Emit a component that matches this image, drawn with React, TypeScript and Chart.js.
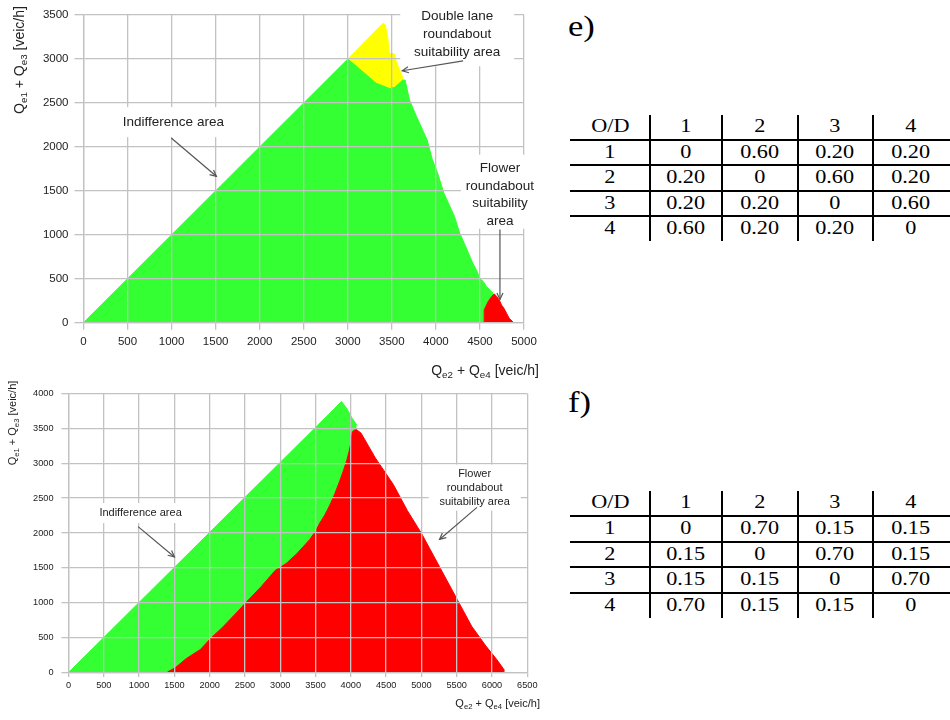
import React, { useEffect, useRef } from 'react';
import { Chart, registerables } from 'chart.js';

Chart.register(...registerables);

const SANS = '"Liberation Sans", Arial, sans-serif';
const SERIF = '"Liberation Serif", "Times New Roman", serif';

// ---------------- chart e) data ----------------
const E_X_TICKS = [0, 500, 1000, 1500, 2000, 2500, 3000, 3500, 4000, 4500, 5000];
const E_Y_TICKS = [0, 500, 1000, 1500, 2000, 2500, 3000, 3500];

const E_GREEN_X = [0, 3000, 3170, 3320, 3470, 3530, 3625, 3650, 3700, 3780, 3900, 3960, 4020, 4090, 4210, 4270, 4330, 4370, 4420, 4460, 4500, 4540, 4575, 4615, 4650];
const E_GREEN_Y = [0, 3000, 2855, 2725, 2665, 2675, 2760, 2760, 2535, 2345, 2080, 1855, 1700, 1475, 1210, 1020, 885, 790, 675, 600, 505, 465, 410, 370, 335];

const E_YELLOW_X = [3000, 3400, 3425, 3450, 3472, 3530, 3550, 3590, 3628];
const E_YELLOW_Y = [3000, 3405, 3386, 3270, 3064, 3056, 2969, 2874, 2780];

const E_RED_X = [4548, 4548, 4593, 4632, 4662, 4690, 4720, 4745, 4772, 4802, 4832, 4868, 4868];
const E_RED_Y = [0, 145, 240, 296, 328, 298, 258, 200, 164, 107, 50, 15, 0];

// ---------------- chart f) data ----------------
const F_X_TICKS = [0, 500, 1000, 1500, 2000, 2500, 3000, 3500, 4000, 4500, 5000, 5500, 6000, 6500];
const F_Y_TICKS = [0, 500, 1000, 1500, 2000, 2500, 3000, 3500, 4000];

const F_GREEN_X = [0, 3868, 3942, 4018, 4083];
const F_GREEN_Y = [0, 3885, 3787, 3645, 3550];

const F_RED_X = [1405, 1405, 1516, 1668, 1870, 2022, 2173, 2376, 2527, 2729, 2932, 3083, 3235, 3418, 3500, 3560, 3631, 3702, 3773, 3844, 3901, 3939, 3975, 4000, 4020, 4071, 4145, 4347, 4600, 4802, 5004, 5257, 5510, 5712, 5914, 6065, 6166, 6166];
const F_RED_Y = [0, 9, 71, 199, 331, 497, 639, 852, 1018, 1231, 1467, 1562, 1704, 1907, 2025, 2142, 2258, 2399, 2563, 2750, 2914, 3031, 3170, 3290, 3450, 3490, 3432, 3077, 2698, 2320, 1988, 1515, 1041, 663, 379, 189, 47, 0];

// ---------------- texts ----------------
const NOTE_INDIFF = ['Indifference area'];
const NOTE_DOUBLE = ['Double lane', 'roundabout', 'suitability area'];
const NOTE_FLOWER_E = ['Flower', 'roundabout', 'suitability', 'area'];
const NOTE_FLOWER_F = ['Flower', 'roundabout', 'suitability area'];
const X_TITLE = [{ t: 'Q' }, { t: 'e2', sub: true }, { t: ' + Q' }, { t: 'e4', sub: true }, { t: ' [veic/h]' }];
const Y_TITLE = [{ t: 'Q' }, { t: 'e1', sub: true }, { t: ' + Q' }, { t: 'e3', sub: true }, { t: ' [veic/h]' }];

// ---------------- tables ----------------
const OD_HEADER = ['O/D', '1', '2', '3', '4'];
const OD_ORIGINS = ['1', '2', '3', '4'];
const E_SHARES = [
  ['0', '0.60', '0.20', '0.20'],
  ['0.20', '0', '0.60', '0.20'],
  ['0.20', '0.20', '0', '0.60'],
  ['0.60', '0.20', '0.20', '0'],
];
const F_SHARES = [
  ['0', '0.70', '0.15', '0.15'],
  ['0.15', '0', '0.70', '0.15'],
  ['0.15', '0.15', '0', '0.70'],
  ['0.70', '0.15', '0.15', '0'],
];

const GREEN = '#33ff33';
const YELLOW = '#ffff00';
const RED = '#ff0000';
const GRID = '#c2c2c2';
const TEXT = '#222222';

function drawRich(ctx: any, parts: any[], x: number, y: number, align: string, size: number) {
  const main = `${size}px ${SANS}`;
  const sub = `${size * 0.7}px ${SANS}`;
  const widths = parts.map((p) => {
    ctx.font = p.sub ? sub : main;
    return ctx.measureText(p.t).width;
  });
  const total = widths.reduce((a, b) => a + b, 0);
  let sx = align === 'right' ? x - total : align === 'center' ? x - total / 2 : x;
  ctx.textAlign = 'left';
  ctx.textBaseline = 'alphabetic';
  parts.forEach((p, i) => {
    ctx.font = p.sub ? sub : main;
    ctx.fillText(p.t, sx, y + (p.sub ? size * 0.22 : 0));
    sx += widths[i];
  });
}

function drawArrow(ctx: any, x0: number, y0: number, x1: number, y1: number) {
  ctx.strokeStyle = '#555555';
  ctx.lineWidth = 1.2;
  ctx.beginPath();
  ctx.moveTo(x0, y0);
  ctx.lineTo(x1, y1);
  ctx.stroke();
  const ang = Math.atan2(y1 - y0, x1 - x0);
  const L = 7;
  const a = 0.45;
  ctx.beginPath();
  ctx.moveTo(x1 - L * Math.cos(ang - a), y1 - L * Math.sin(ang - a));
  ctx.lineTo(x1, y1);
  ctx.lineTo(x1 - L * Math.cos(ang + a), y1 - L * Math.sin(ang + a));
  ctx.stroke();
}

const overlayPlugin = {
  id: 'overlay',
  afterDraw(chart: any, _args: any, opts: any) {
    const ctx = chart.ctx;
    const xs = chart.scales.x;
    const ys = chart.scales.y;
    ctx.save();
    for (const n of opts.notes) {
      const cx = xs.getPixelForValue(n.x);
      const cy = ys.getPixelForValue(n.y);
      ctx.fillStyle = '#ffffff';
      ctx.fillRect(cx - n.boxW / 2, cy - n.boxH / 2 + (n.boxDy || 0), n.boxW, n.boxH);
      ctx.fillStyle = TEXT;
      ctx.font = `${n.size}px ${SANS}`;
      ctx.textAlign = 'center';
      ctx.textBaseline = 'middle';
      const k = n.lines.length;
      n.lines.forEach((t: string, i: number) => ctx.fillText(t, cx, cy + (i - (k - 1) / 2) * n.lh));
      drawArrow(
        ctx,
        xs.getPixelForValue(n.arrow[0]),
        ys.getPixelForValue(n.arrow[1]),
        xs.getPixelForValue(n.arrow[2]),
        ys.getPixelForValue(n.arrow[3])
      );
    }
    ctx.fillStyle = TEXT;
    const xt = opts.xTitle;
    drawRich(ctx, X_TITLE, xt.x, xt.y, 'right', xt.size);
    const yt = opts.yTitle;
    ctx.save();
    ctx.translate(yt.x, yt.y);
    ctx.rotate(-Math.PI / 2);
    drawRich(ctx, Y_TITLE, 0, yt.size * 0.36, 'center', yt.size);
    ctx.restore();
    ctx.restore();
  },
};

type Spec = any;

const E_SPEC: Spec = {
  width: 545,
  height: 380,
  plot: { left: 83.5, right: 524, top: 15, bottom: 322.7 },
  xMax: 5000,
  yMax: 3500,
  xTicks: E_X_TICKS,
  yTicks: E_Y_TICKS,
  tickFont: 11.5,
  xTick: { len: 7, pad: 5 },
  yTick: { len: 9, pad: 6 },
  areas: [
    { xs: E_RED_X, ys: E_RED_Y, color: RED },
    { xs: E_GREEN_X, ys: E_GREEN_Y, color: GREEN },
    { xs: E_YELLOW_X, ys: E_YELLOW_Y, color: YELLOW },
  ],
  notes: [
    { lines: NOTE_INDIFF, x: 1020, y: 2282, size: 13.5, lh: 17.8, boxW: 126, boxH: 30, arrow: [996, 2100, 1508, 1665] },
    { lines: NOTE_DOUBLE, x: 4242, y: 3281, size: 13.5, lh: 17.8, boxW: 114, boxH: 64, arrow: [4309, 2978, 3618, 2866] },
    { lines: NOTE_FLOWER_E, x: 4727, y: 1456, size: 13.5, lh: 17.6, boxW: 78, boxH: 74, boxDy: -3, arrow: [4727, 1059, 4727, 265] },
  ],
  xTitle: { x: 539, y: 375, size: 14 },
  yTitle: { x: 19, y: 60, size: 14 },
};

const F_SPEC: Spec = {
  width: 560,
  height: 340,
  plot: { left: 68.5, right: 527.3, top: 7.7, bottom: 292.5 },
  xMax: 6500,
  yMax: 4000,
  xTicks: F_X_TICKS,
  yTicks: F_Y_TICKS,
  tickFont: 9.2,
  xTick: { len: 4.5, pad: 3.3 },
  yTick: { len: 7, pad: 8 },
  areas: [
    { xs: F_RED_X, ys: F_RED_Y, color: RED },
    { xs: F_GREEN_X, ys: F_GREEN_Y, color: GREEN },
  ],
  notes: [
    { lines: NOTE_INDIFF, x: 1021, y: 2286, size: 11, lh: 14, boxW: 98, boxH: 20, arrow: [986, 2092, 1501, 1657] },
    { lines: NOTE_FLOWER_F, x: 5754, y: 2651, size: 11, lh: 14.1, boxW: 92, boxH: 46, arrow: [5787, 2367, 5257, 1908] },
  ],
  xTitle: { x: 540, y: 327, size: 11 },
  yTitle: { x: 12.5, y: 43, size: 11 },
};

function ChartPanel({ spec, left, top }: { spec: Spec; left: number; top: number }) {
  const ref = useRef<HTMLCanvasElement | null>(null);
  useEffect(() => {
    if (!ref.current) return;
    const s = spec;
    const tickCfg = (len: number, pad: number) => ({
      autoSkip: false,
      maxRotation: 0,
      minRotation: 0,
      padding: pad,
      color: TEXT,
      font: { family: SANS, size: s.tickFont },
      callback: (v: any) => String(v),
    });
    const chart = new Chart(ref.current, {
      type: 'line',
      data: {
        datasets: s.areas.map((a: any) => ({
          data: a.xs.map((x: number, i: number) => ({ x, y: a.ys[i] })),
          borderColor: a.color,
          backgroundColor: a.color,
          borderWidth: 1,
          fill: 'origin',
          pointRadius: 0,
          pointHoverRadius: 0,
          tension: 0,
        })),
      },
      options: {
        responsive: false,
        animation: false,
        events: [],
        layout: { padding: { left: 0, top: s.plot.top, right: s.width - s.plot.right, bottom: 0 } },
        plugins: {
          legend: { display: false },
          tooltip: { enabled: false },
          overlay: { notes: s.notes, xTitle: s.xTitle, yTitle: s.yTitle },
        } as any,
        scales: {
          x: {
            type: 'linear',
            min: 0,
            max: s.xMax,
            afterFit: (sc: any) => {
              sc.height = s.height - s.plot.bottom;
            },
            afterBuildTicks: (sc: any) => {
              sc.ticks = s.xTicks.map((v: number) => ({ value: v }));
            },
            ticks: tickCfg(s.xTick.len, s.xTick.pad),
            grid: { color: GRID, lineWidth: 1.3, tickLength: s.xTick.len, z: 1 },
            border: { color: GRID, width: 1.3, z: 1 },
          },
          y: {
            type: 'linear',
            min: 0,
            max: s.yMax,
            afterFit: (sc: any) => {
              sc.width = s.plot.left;
            },
            afterBuildTicks: (sc: any) => {
              sc.ticks = s.yTicks.map((v: number) => ({ value: v }));
            },
            ticks: tickCfg(s.yTick.len, s.yTick.pad),
            grid: { color: GRID, lineWidth: 1.3, tickLength: s.yTick.len, z: 1 },
            border: { color: GRID, width: 1.3, z: 1 },
          },
        },
      } as any,
      plugins: [overlayPlugin as any],
    });
    return () => chart.destroy();
  }, [spec]);
  return (
    <canvas
      ref={ref}
      width={spec.width}
      height={spec.height}
      style={{ position: 'absolute', left, top, width: spec.width, height: spec.height }}
    />
  );
}

const COL_CENTERS = [610, 686, 760, 835, 911];
const COL_LINES = [650, 722, 798, 873];
const ROW_H = 25.6;

function ODTable({ headCenter, shares }: { headCenter: number; shares: string[][] }) {
  const rows = [OD_HEADER, ...shares.map((r, i) => [OD_ORIGINS[i], ...r])];
  const items: any[] = [];
  rows.forEach((row, r) =>
    row.forEach((t, c) =>
      items.push(
        <div
          key={`c${r}-${c}`}
          style={{
            position: 'absolute',
            left: COL_CENTERS[c] - 40,
            width: 80,
            top: headCenter + r * ROW_H - 12,
            height: 24,
            lineHeight: '24px',
            textAlign: 'center',
            font: `19px ${SERIF}`,
            color: '#000',
            whiteSpace: 'nowrap',
          }}
        >
          <span style={{ display: 'inline-block', transform: 'scaleX(1.17)' }}>{t}</span>
        </div>
      )
    )
  );
  for (let i = 0; i < 4; i++) {
    items.push(
      <div
        key={`h${i}`}
        style={{ position: 'absolute', left: 570, width: 380, top: headCenter + 12.6 + i * ROW_H - 1, height: 2, background: '#000' }}
      />
    );
  }
  COL_LINES.forEach((x, i) =>
    items.push(
      <div
        key={`v${i}`}
        style={{ position: 'absolute', left: x - 1, width: 2, top: headCenter - 12, height: 4 * ROW_H + 24, background: '#000' }}
      />
    )
  );
  return <>{items}</>;
}

function PanelLabel({ text, baseline }: { text: string; baseline: number }) {
  return (
    <div
      style={{
        position: 'absolute',
        left: 568,
        top: baseline - 25.1,
        font: `30px ${SERIF}`,
        lineHeight: '30px',
        color: '#000',
        transform: 'scaleX(1.15)',
        transformOrigin: 'left top',
        whiteSpace: 'nowrap',
      }}
    >
      {text}
    </div>
  );
}

export default function App() {
  return (
    <div style={{ position: 'absolute', left: 0, top: 0, width: 950, height: 720, background: '#fff', overflow: 'hidden' }}>
      <ChartPanel spec={E_SPEC} left={0} top={0} />
      <ChartPanel spec={F_SPEC} left={0} top={380} />
      <PanelLabel text="e)" baseline={36.5} />
      <ODTable headCenter={127} shares={E_SHARES} />
      <PanelLabel text="f)" baseline={411.7} />
      <ODTable headCenter={503.3} shares={F_SHARES} />
    </div>
  );
}
